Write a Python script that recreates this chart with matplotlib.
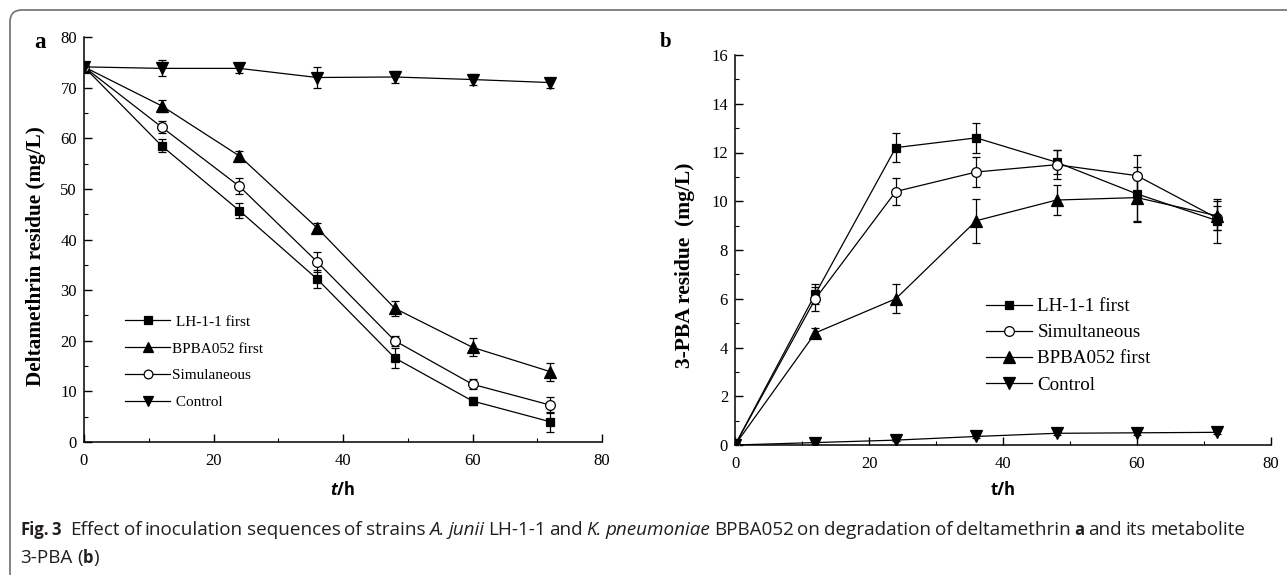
import matplotlib
matplotlib.use("Agg")
from matplotlib import pyplot as plt
from matplotlib.ticker import MultipleLocator
from matplotlib.patches import FancyBboxPatch
from matplotlib.transforms import IdentityTransform

time_h = [0, 12, 24, 36, 48, 60, 72]

# panel a : deltamethrin residue (mg/L)
a_lh = [74.1, 58.5, 45.7, 32.2, 16.6, 8.1, 4.0]
a_lh_err = [0.4, 1.3, 1.5, 1.8, 2.0, 0.8, 2.0]
a_bp = [74.1, 66.4, 56.5, 42.3, 26.4, 18.7, 13.9]
a_bp_err = [0.4, 1.2, 1.0, 1.0, 1.5, 1.8, 1.8]
a_sim = [74.1, 62.2, 50.5, 35.6, 20.0, 11.4, 7.3]
a_sim_err = [0.4, 1.2, 1.6, 2.0, 1.0, 1.0, 1.5]
a_ctl = [74.1, 73.8, 73.8, 72.0, 72.1, 71.6, 71.0]
a_ctl_err = [0.4, 1.6, 1.0, 2.0, 1.2, 1.0, 1.0]
a_labels = [" LH-1-1 first", "BPBA052 first", "Simulaneous", " Control"]

# panel b : 3-PBA residue (mg/L)
b_lh = [0.0, 6.2, 12.2, 12.6, 11.6, 10.3, 9.2]
b_lh_err = [0.05, 0.4, 0.6, 0.6, 0.5, 1.1, 0.9]
b_sim = [0.0, 6.0, 10.4, 11.2, 11.5, 11.05, 9.3]
b_sim_err = [0.05, 0.5, 0.55, 0.6, 0.6, 0.85, 0.5]
b_bp = [0.0, 4.6, 6.0, 9.2, 10.05, 10.15, 9.4]
b_bp_err = [0.05, 0.2, 0.6, 0.9, 0.6, 1.0, 0.6]
b_ctl = [0.0, 0.1, 0.2, 0.35, 0.48, 0.5, 0.52]
b_ctl_err = [0.02, 0.05, 0.05, 0.05, 0.05, 0.1, 0.05]
b_labels = ["LH-1-1 first", "Simultaneous", "BPBA052 first", "Control"]

SERIF = "Liberation Serif"
plt.rcParams['font.family'] = SERIF
plt.rcParams['mathtext.fontset'] = 'custom'
plt.rcParams['mathtext.bf'] = 'Open Sans:bold'
plt.rcParams['mathtext.it'] = 'Open Sans:italic:bold'

fig = plt.figure(figsize=(12.87, 5.75), dpi=100)

# rounded frame (only top and left edges visible), pixel coords from bottom-left
frame = FancyBboxPatch((10, -40), 1330, 605, boxstyle="round,pad=0,rounding_size=12",
                       transform=IdentityTransform(), fill=False, edgecolor='#7a7a7a',
                       linewidth=1.3)
fig.patches.append(frame)


def style_axis(ax, xmax, ymax, ymaj, ymin):
    ax.spines['top'].set_visible(False)
    ax.spines['right'].set_visible(False)
    for s in ['left', 'bottom']:
        ax.spines[s].set_linewidth(1.1)
    ax.set_xlim(0, xmax)
    ax.set_ylim(0, ymax)
    ax.xaxis.set_major_locator(MultipleLocator(20))
    ax.xaxis.set_minor_locator(MultipleLocator(10))
    ax.yaxis.set_major_locator(MultipleLocator(ymaj))
    ax.yaxis.set_minor_locator(MultipleLocator(ymin))
    ax.tick_params(which='major', direction='in', length=6, width=1, labelsize=12, pad=8)
    ax.tick_params(which='minor', direction='in', length=3, width=0.8)
    ax.tick_params(axis='y', pad=5)


def draw(ax, y, err, marker, face, ms, label):
    ax.errorbar(time_h, y, yerr=err, fmt='none', ecolor='black', elinewidth=0.9,
                capsize=3, capthick=0.9, zorder=2)
    h, = ax.plot(time_h, y, color='black', lw=0.9, marker=marker, ms=ms,
                 mfc=face, mec='black', mew=0.9, label=label, zorder=3)
    return h


# panel a
axa = fig.add_axes([84 / 1287, 1 - 442 / 575, 518 / 1287, 405 / 575])
style_axis(axa, 80, 80, 10, 5)
ha = [draw(axa, a_lh, a_lh_err, 's', 'black', 6, a_labels[0]),
      draw(axa, a_bp, a_bp_err, '^', 'black', 8, a_labels[1]),
      draw(axa, a_sim, a_sim_err, 'o', 'white', 7, a_labels[2]),
      draw(axa, a_ctl, a_ctl_err, 'v', 'black', 8, a_labels[3])]
axa.legend(handles=ha, loc='upper left', bbox_to_anchor=(125 / 1287, 1 - 315 / 575),
           bbox_transform=fig.transFigure, frameon=False, fontsize=11,
           handlelength=2.95, handletextpad=0.15, labelspacing=0.86, borderpad=0,
           borderaxespad=0, markerscale=0.9)
fig.text(36 / 1287, 1 - 256 / 575, "Deltamethrin residue (mg/L)", rotation=90, fontsize=15.3,
         fontweight='bold', ha='center', va='center')
fig.text(343 / 1287, 1 - 490 / 575, r"$\mathit{t}$$\mathbf{/h}$", ha='center', va='center',
         fontsize=12)
fig.text(40 / 1287, 1 - 43 / 575, "a", fontsize=16.5, fontweight='bold', ha='center', va='center')

# panel b
axb = fig.add_axes([735 / 1287, 1 - 445 / 575, 536 / 1287, 390 / 575])
style_axis(axb, 80, 16, 2, 1)
hb = [draw(axb, b_lh, b_lh_err, 's', 'black', 6, b_labels[0]),
      draw(axb, b_sim, b_sim_err, 'o', 'white', 7, b_labels[1]),
      draw(axb, b_bp, b_bp_err, '^', 'black', 8, b_labels[2]),
      draw(axb, b_ctl, b_ctl_err, 'v', 'black', 8, b_labels[3])]
axb.legend(handles=hb, loc='upper left', bbox_to_anchor=(986 / 1287, 1 - 298 / 575),
           bbox_transform=fig.transFigure, frameon=False, fontsize=13.7,
           handlelength=2.4, handletextpad=0.3, labelspacing=0.46, borderpad=0,
           borderaxespad=0)
fig.text(685 / 1287, 1 - 265 / 575, "3-PBA residue  (mg/L)", rotation=90, fontsize=15.5,
         fontweight='bold', ha='center', va='center')
fig.text(1003 / 1287, 1 - 490 / 575, "t/h", ha='center', va='center', fontsize=12,
         fontweight='bold', family='Open Sans')
fig.text(666 / 1287, 1 - 42 / 575, "b", fontsize=15, fontweight='bold', ha='center', va='center')

# caption, built word by word (first line justified to the right margin)
renderer = fig.canvas.get_renderer()
CAP = 'Open Sans'
CAP_COLOR = '#231f20'


def cap_text(x, y, s, weight, style, size):
    return fig.text(x, y, s, transform=IdentityTransform(), family=CAP, fontsize=size,
                    fontweight=weight, fontstyle=style, va='baseline', ha='left',
                    color=CAP_COLOR)


def caption_line(words, x0, y, x_end=None, size=13.6):
    # words: (text, weight, style, gap) -- gap = number of spaces before the word
    texts = [cap_text(x0, y, w, wt, st, size if wt == 'normal' else size * 0.88)
             for w, wt, st, _ in words]
    widths = [t.get_window_extent(renderer).width for t in texts]
    probe = cap_text(0, 0, "a a", 'normal', 'normal', size)
    probe1 = cap_text(0, 0, "aa", 'normal', 'normal', size)
    sp_w = probe.get_window_extent(renderer).width - probe1.get_window_extent(renderer).width
    probe.remove()
    probe1.remove()
    n_gaps = sum(w[3] for w in words[1:])
    gap = sp_w
    if x_end is not None and n_gaps:
        gap = (x_end - x0 - sum(widths)) / n_gaps
    x = x0
    for i, (t, wdt) in enumerate(zip(texts, widths)):
        if i > 0:
            x += gap * words[i][3]
        t.set_x(x)
        x += wdt


caption_line([("Fig.", 'bold', 'normal', 0), ("3", 'bold', 'normal', 0.7),
              ("Effect", 'normal', 'normal', 2.6), ("of", 'normal', 'normal', 1),
              ("inoculation", 'normal', 'normal', 1), ("sequences", 'normal', 'normal', 1),
              ("of", 'normal', 'normal', 1), ("strains", 'normal', 'normal', 1),
              ("A.", 'normal', 'italic', 1), ("junii", 'normal', 'italic', 1),
              ("LH-1-1", 'normal', 'normal', 1), ("and", 'normal', 'normal', 1),
              ("K.", 'normal', 'italic', 1), ("pneumoniae", 'normal', 'italic', 1),
              ("BPBA052", 'normal', 'normal', 1), ("on", 'normal', 'normal', 1),
              ("degradation", 'normal', 'normal', 1), ("of", 'normal', 'normal', 1),
              ("deltamethrin", 'normal', 'normal', 1), ("a", 'bold', 'normal', 1),
              ("and", 'normal', 'normal', 1), ("its", 'normal', 'normal', 1),
              ("metabolite", 'normal', 'normal', 1)], 20, 575 - 535, x_end=1245)
caption_line([("3-PBA", 'normal', 'normal', 0), ("(", 'normal', 'normal', 1),
              ("b", 'bold', 'normal', 0), (")", 'normal', 'normal', 0)], 20, 575 - 563)

fig.savefig("out.png", dpi=100)
